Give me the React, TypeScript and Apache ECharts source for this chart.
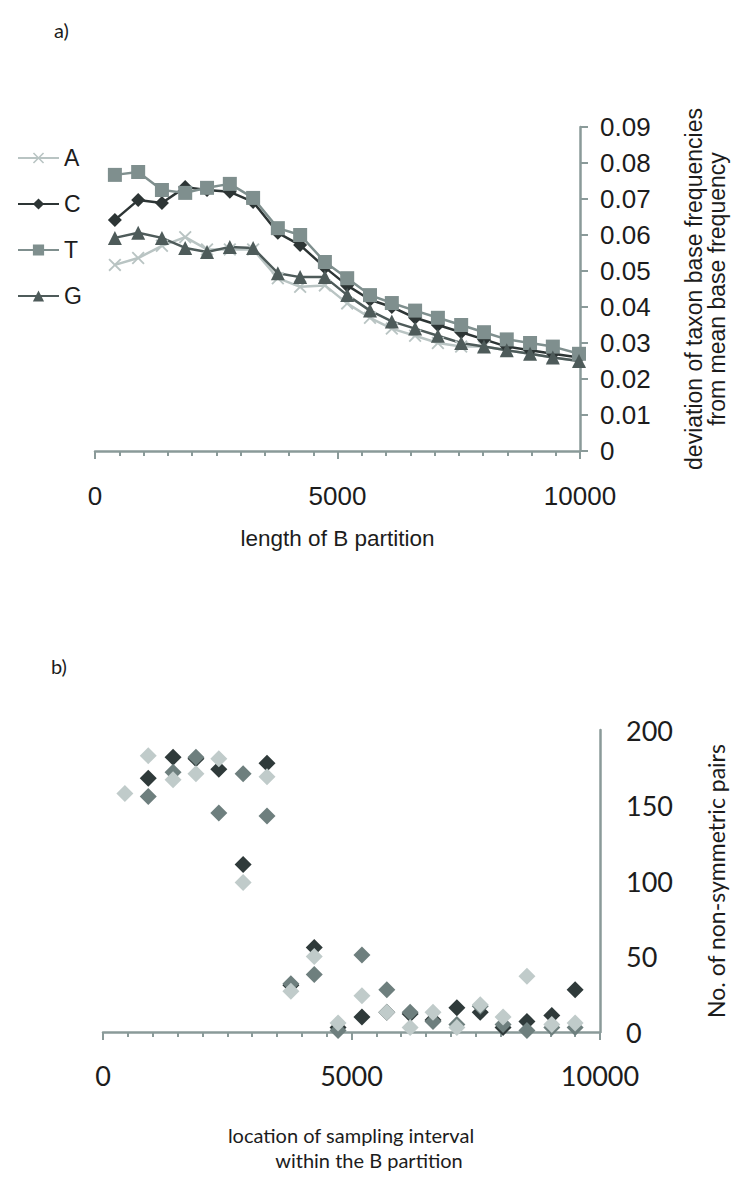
import React, { useEffect, useRef } from "react";
import * as echarts from "echarts";

// ---- panel a) ----
const lengthB = [410, 890, 1380, 1860, 2310, 2780, 3260, 3770, 4230, 4740, 5200, 5670, 6120, 6600, 7070, 7550, 8020, 8490, 8970, 9440, 9980];
const seriesA = [0.0517, 0.0536, 0.057, 0.0594, 0.056, 0.056, 0.056, 0.048, 0.0456, 0.046, 0.041, 0.037, 0.034, 0.032, 0.030, 0.029, 0.029, 0.028, 0.027, 0.026, 0.025];
const seriesC = [0.0642, 0.0697, 0.0689, 0.0733, 0.0725, 0.072, 0.0692, 0.0606, 0.0572, 0.051, 0.046, 0.042, 0.040, 0.037, 0.035, 0.033, 0.031, 0.029, 0.028, 0.027, 0.026];
const seriesT = [0.0767, 0.0775, 0.0725, 0.0717, 0.0731, 0.0742, 0.0703, 0.0619, 0.060, 0.0525, 0.048, 0.0433, 0.0411, 0.039, 0.037, 0.035, 0.033, 0.031, 0.030, 0.029, 0.027];
const seriesG = [0.0592, 0.0606, 0.0592, 0.0564, 0.0553, 0.0567, 0.0564, 0.0494, 0.0483, 0.0483, 0.0433, 0.039, 0.036, 0.034, 0.032, 0.030, 0.029, 0.028, 0.027, 0.026, 0.025];

// ---- panel b) ----
const locB = [440, 910, 1410, 1870, 2330, 2820, 3300, 3780, 4250, 4730, 5210, 5710, 6180, 6640, 7120, 7590, 8050, 8530, 9030, 9500];
const pairsDark = [null, 168, 182, 181, 174, 111, 178, 31, 56, 3, 10, 13, 12, 8, 16, 13, 3, 7, 11, 28];
const pairsMid = [null, 156, 172, 182, 145, 171, 143, 32, 38, 1, 51, 28, 13, 7, 5, 17, 5, 1, 3, 3];
const pairsLight = [158, 183, 167, 171, 181, 99, 169, 27, 50, 6, 24, 13, 3, 13, 3, 18, 10, 37, 5, 6];

const xTicks = [0, 5000, 10000];

const AXIS = "#8a9a99";
const TXT = "#1c1c1c";
const ARIAL = "Liberation Sans, Arial, sans-serif";
const CAL = "Lato, sans-serif";

const xMark = "path://M1,0 L5,4 L9,0 L10,1 L6,5 L10,9 L9,10 L5,6 L1,10 L0,9 L4,5 L0,1 Z";

function pair(xs: number[], ys: (number | null)[]) {
  return xs.map((x, i) => (ys[i] == null ? [x, "-"] : [x, ys[i]]));
}

export default function App() {
  const ref = useRef<HTMLDivElement>(null);
  useEffect(() => {
    if (!ref.current) return;
    const chart = echarts.init(ref.current, undefined, { renderer: "svg" });
    const lineSeries = (name: string, ys: number[], color: string, symbol: string, size: number) => ({
      name,
      type: "line",
      xAxisIndex: 0,
      yAxisIndex: 0,
      data: pair(lengthB, ys),
      symbol,
      symbolSize: size,
      itemStyle: { color },
      lineStyle: { color, width: 2.5 },
    });
    const scatter = (name: string, ys: (number | null)[], color: string) => ({
      name,
      type: "scatter",
      xAxisIndex: 1,
      yAxisIndex: 1,
      data: pair(locB, ys),
      symbol: "diamond",
      symbolSize: [17, 17],
      itemStyle: { color, opacity: 1 },
    });
    const xAxisCommon = (grid: number, font: string, size: number, margin: number) => ({
      gridIndex: grid,
      type: "value",
      min: 0,
      max: 10000,
      interval: 5000,
      axisLine: { show: true, onZero: false, lineStyle: { color: AXIS, width: 2.5 } },
      axisTick: { show: true, length: 8, lineStyle: { color: AXIS, width: 2 } },
      minorTick: { show: true, splitNumber: 10, length: 5, lineStyle: { color: AXIS, width: 2 } },
      splitLine: { show: false },
      minorSplitLine: { show: false },
      axisLabel: {
        fontFamily: font,
        fontSize: size,
        color: TXT,
        margin,
        formatter: (v: number) => (xTicks.includes(v) ? String(v) : ""),
      },
    });
    chart.setOption({
      animation: false,
      backgroundColor: "#ffffff",
      legend: {
        data: ["A", "C", "T", "G"],
        orient: "vertical",
        left: 12,
        top: 141,
        itemWidth: 41,
        itemHeight: 14,
        itemGap: 22,
        textStyle: { fontFamily: ARIAL, fontSize: 23, color: TXT, lineHeight: 24 },
      },
      grid: [
        { left: 95, right: 165, top: 127, bottom: 727 },
        { left: 103, right: 145, top: 730, bottom: 146 },
      ],
      xAxis: [
        {
          ...xAxisCommon(0, ARIAL, 26, 32),
          name: "length of B partition",
          nameLocation: "middle",
          nameGap: 76,
          nameTextStyle: { fontFamily: ARIAL, fontSize: 22.5, color: TXT },
        },
        xAxisCommon(1, CAL, 27, 30),
      ],
      yAxis: [
        {
          gridIndex: 0,
          type: "value",
          position: "right",
          min: 0,
          max: 0.09,
          interval: 0.01,
          axisLine: { show: true, onZero: false, lineStyle: { color: AXIS, width: 2.5 } },
          axisTick: { show: true, length: 8, lineStyle: { color: AXIS, width: 2 } },
          splitLine: { show: false },
          axisLabel: {
            fontFamily: ARIAL,
            fontSize: 26,
            color: TXT,
            margin: 20,
            formatter: (v: number) => (v === 0 ? "0" : v.toFixed(2)),
          },
          name: "deviation of taxon base frequencies\nfrom mean base frequency",
          nameLocation: "middle",
          nameRotate: 90,
          nameGap: 102,
          nameTextStyle: { fontFamily: ARIAL, fontSize: 23, color: TXT, lineHeight: 23 },
        },
        {
          gridIndex: 1,
          type: "value",
          position: "right",
          min: 0,
          max: 200,
          interval: 50,
          axisLine: { show: true, onZero: false, lineStyle: { color: AXIS, width: 2.5 } },
          axisTick: { show: false },
          splitLine: { show: false },
          axisLabel: { fontFamily: CAL, fontSize: 27, color: TXT, margin: 26 },
          name: "No. of non-symmetric pairs",
          nameLocation: "middle",
          nameRotate: 90,
          nameGap: 104,
          nameTextStyle: { fontFamily: CAL, fontSize: 23, color: TXT },
        },
      ],
      graphic: [
        { type: "text", left: 54, top: 20, style: { text: "a)", font: `20px ${CAL}`, fill: TXT } },
        { type: "text", left: 51, top: 656, style: { text: "b)", font: `20px ${CAL}`, fill: TXT } },
        {
          type: "text",
          x: 351,
          y: 1125,
          style: { text: "location of sampling interval", font: `20px ${CAL}`, fill: TXT, align: "center" },
        },
        {
          type: "text",
          x: 369,
          y: 1150,
          style: { text: "within the B partition", font: `20px ${CAL}`, fill: TXT, align: "center" },
        },
      ],
      series: [
        lineSeries("A", seriesA, "#b9c4c3", xMark, 13),
        lineSeries("C", seriesC, "#2d3535", "diamond", 14),
        lineSeries("T", seriesT, "#7f8f8e", "rect", 14),
        lineSeries("G", seriesG, "#4e5b5a", "triangle", 14),
        scatter("dark", pairsDark, "#2f3a3a"),
        scatter("mid", pairsMid, "#6e7f7e"),
        scatter("light", pairsLight, "#c0cbca"),
      ],
    });
    return () => chart.dispose();
  }, []);
  return (
    <div
      ref={ref}
      style={{ position: "fixed", left: 0, top: 0, width: 745, height: 1178, background: "#fff" }}
    />
  );
}
